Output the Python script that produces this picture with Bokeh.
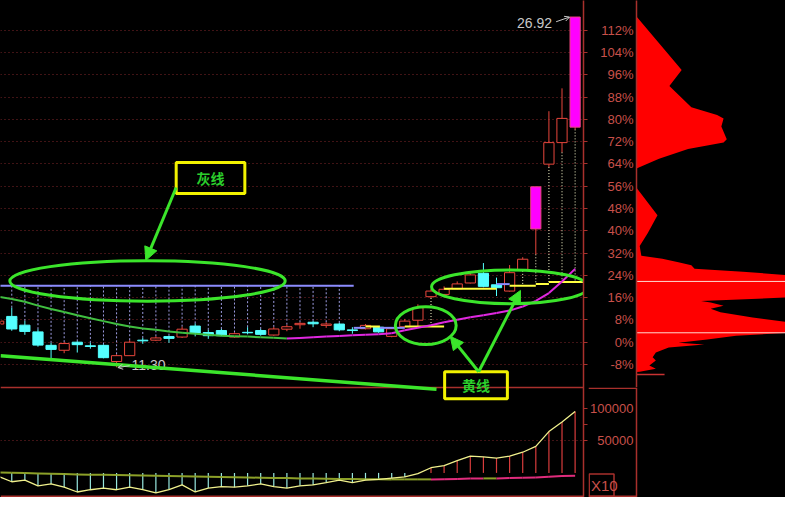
import numpy as np
from bokeh.plotting import figure
from bokeh.models import Range1d, FixedTicker, Span, Arrow, NormalHead, OpenHead
from bokeh.layouts import row, column
from bokeh.core.properties import value
from bokeh.embed import file_html
from bokeh.resources import INLINE

# ---------------- data ----------------
days = list(range(-1, 44))
open_price = [13.23, 13.57, 13.18, 12.88, 12.28, 12.06, 12.42, 12.26, 12.28, 11.56,
              11.82, 12.51, 12.51, 12.67, 12.65, 13.14, 12.85, 12.94, 12.65, 12.86,
              12.94, 12.74, 13.00, 13.20, 13.31, 13.17, 13.23, 12.97, 13.02, 13.09,
              12.68, 13.11, 13.40, 14.45, 14.55, 14.80, 15.06, 15.49, 14.98, 14.70,
              15.63, 17.47, 20.36, 21.32, 22.01]
close_price = [13.36, 13.01, 12.90, 12.29, 12.10, 12.36, 12.31, 12.23, 11.73, 11.82,
               12.42, 12.48, 12.61, 12.59, 13.00, 12.83, 12.71, 12.71, 12.80, 12.84,
               12.77, 13.01, 13.11, 13.26, 13.24, 13.23, 12.97, 12.94, 13.17, 12.88,
               13.02, 13.36, 13.96, 14.70, 14.78, 15.02, 15.42, 14.91, 14.85, 15.52,
               16.12, 19.35, 21.32, 22.40, 26.92]
high_price = [13.44, 13.96, 13.37, 13.00, 12.39, 12.42, 12.46, 12.39, 12.32, 11.88,
              12.51, 12.61, 12.68, 12.71, 13.11, 13.26, 12.97, 13.01, 12.85, 13.09,
              13.01, 13.10, 13.20, 13.31, 13.37, 13.31, 13.28, 13.09, 13.23, 13.14,
              13.09, 13.46, 14.11, 14.80, 14.91, 15.13, 15.52, 15.95, 15.30, 15.86,
              16.21, 19.35, 22.72, 23.74, 26.92]
low_price = [13.18, 12.93, 12.75, 12.22, 11.67, 11.93, 11.96, 12.13, 11.70, 11.30,
             11.82, 12.35, 12.47, 12.39, 12.61, 12.68, 12.57, 12.69, 12.62, 12.77,
             12.71, 12.71, 12.91, 13.02, 13.09, 13.06, 12.91, 12.80, 12.99, 12.84,
             12.64, 13.10, 13.14, 14.39, 14.52, 14.78, 15.04, 14.87, 14.48, 14.68,
             15.60, 16.34, 20.23, 20.89, 21.91]
ma_line = [14.44, 14.35, 14.22, 14.05, 13.90, 13.77, 13.62, 13.49, 13.36, 13.23,
           13.12, 13.03, 12.97, 12.90, 12.84, 12.80, 12.75, 12.71, 12.69, 12.67,
           12.64, 12.62, 12.58, 12.61, 12.64, 12.67, 12.70, 12.73, 12.75, 12.78,
           12.82, 12.95, 13.06, 13.18, 13.31, 13.42, 13.53, 13.62, 13.72, 13.83,
           14.01, 14.26, 14.61, 15.13, 15.69]
x10_value = [-5500, -13700, -11100, -20100, -17100, -22100, -29600, -26100, -23600, -26100,
             -22100, -26100, -31100, -26100, -18600, -29600, -23600, -21200, -22100, -20100,
             -17100, -21200, -23600, -20100, -18600, -15200, -11100, -15200, -11100, -10100,
             -8100, -6200, -1100, 8000, 11400, 18900, 26000, 24900, 23000, 26000,
             32000, 41000, 64000, 79000, 95000]
x10_avg = [450, 150, -300, -900, -1350, -1800, -2400, -2700, -3000, -3300,
           -3600, -3900, -4350, -4800, -5100, -5550, -6000, -6300, -6600, -7050,
           -7500, -7800, -8100, -8550, -8850, -9150, -9450, -9600, -9750, -9900,
           -10050, -10050, -10050, -10050, -9900, -9600, -8850, -8550, -8550, -8100,
           -7350, -7050, -5850, -4800, -4500]

base_price = 12.42
pct_ticks = [-8, 0, 8, 16, 24, 32, 40, 48, 56, 64, 72, 80, 88, 96, 104, 112]
x10_label_ticks = [100000, 50000]
x10_minor_tick = 75000
x10_name = "X10"

# grey (resistance) and yellow (support) step lines
grey_start = [-1.5, 26.1, 28.1, 37.0]
grey_end = [26.1, 27.0, 30.0, 38.0]
grey_level = [14.94, 13.06, 13.06, 15.01]
yellow_start = [27.0, 30.0, 33.0, 38.0, 40.0, 41.0]
yellow_end = [28.1, 33.0, 37.0, 40.0, 41.0, 43.6]
yellow_level = [13.12, 13.12, 14.80, 14.94, 15.01, 15.10]
grey_link_days = list(range(0, 26))
yellow_link_days = [32, 39, 40, 41, 42, 43]

# chip distribution (price level, bar length)
profile_price = [26.94, 24.56, 23.84, 22.90, 22.55, 22.40, 22.04, 21.47, 21.32, 21.03,
                 20.60, 20.17, 19.31, 18.08, 17.29, 16.71, 16.28, 16.14, 15.99, 15.85,
                 15.70, 15.56, 15.42, 14.41, 14.26, 14.19, 14.05, 13.91, 13.76, 13.52,
                 13.33, 12.83, 12.71, 12.54, 12.39, 12.32, 12.18, 11.96, 11.75, 11.60,
                 11.38, 11.24, 11.10, 11.09]
profile_len = [0, 46.7, 34, 56.7, 83.3, 90, 87.7, 93.3, 90, 53.3,
               23.3, 0, 0, 21.7, 11.7, 3.3, 5, 26.7, 43.3, 56.7,
               60, 110, 154, 154, 66.7, 76.7, 90, 76.7, 86.7, 120,
               154, 154, 103, 73, 43.3, 70, 33.3, 20, 16.7, 20,
               13.3, 20, 3.3, 0]
cost_lines = [15.13, 12.84]
profile_floor = 10.98
profile_floor_len = 29

# hand-drawn callouts (day index, price)
ellipse_x = [10.36, 31.60, 38.03]
ellipse_y = [15.15, 13.16, 14.89]
ellipse_w = [21.02, 4.64, 11.97]
ellipse_h = [1.81, 1.68, 1.51]
box_text = ["灰线", "黄线"]
box_left = [12.55, 33.04]
box_right = [17.79, 37.83]
box_top = [20.43, 11.10]
box_bottom = [19.05, 9.90]

# ---------------- styles / geometry ----------------
BG = "#000000"
AXIS_RED = "#a8302c"
LABEL_RED = "#c8504a"
GRID_RED = "#80262a"
UP_RED = "#e8463c"
DOWN_CYAN = "#54ffff"
LIMIT_FILL = "#ff00ff"
LIME = "#3be52b"
BOX_YEL = "#f2f200"

H = 497
H_TOP = 387
W_MAIN, W_SIDE, AX_W = 588, 197, 48
price_lo, price_hi = 5.495, 27.657
x10_lo, x10_hi = -38140, 732130
px_per_price = H / (price_hi - price_lo)
px_per_x10 = H / (x10_hi - x10_lo)


def x10_to_price(v):
    return price_lo + (v - x10_lo) / (x10_hi - x10_lo) * (price_hi - price_lo)


pct_pos = [base_price * (1 + q / 100.0) for q in pct_ticks]
x10_pos = [x10_to_price(v) for v in x10_label_ticks]
x10_minor_pos = x10_to_price(x10_minor_tick)

# ---------------- main price + indicator panel ----------------
p = figure(width=W_MAIN, height=H, x_range=Range1d(-0.86, 43.64),
           y_range=Range1d(price_lo, price_hi), output_backend="svg",
           toolbar_location=None, x_axis_location=None, y_axis_location="right",
           background_fill_color=BG, border_fill_color=BG, outline_line_color=None,
           min_border_left=0, min_border_right=5, min_border_top=0, min_border_bottom=0)
p.extra_y_ranges = {"x10": Range1d(x10_lo, x10_hi)}
p.xgrid.visible = False
p.ygrid.ticker = FixedTicker(ticks=pct_pos + [x10_pos[1]])
p.ygrid.grid_line_color = GRID_RED
p.ygrid.grid_line_dash = "1 3"
ax = p.yaxis[0]
main_ticks = pct_pos + x10_pos + [x10_minor_pos]
ax.ticker = FixedTicker(ticks=main_ticks)
ax.major_label_overrides = {t: "" for t in main_ticks}
ax.axis_line_color = AXIS_RED
ax.axis_line_width = 1.5
ax.major_tick_line_color = AXIS_RED
ax.major_tick_out = 4
ax.major_tick_in = 0
ax.minor_tick_line_color = None
ax.major_label_standoff = 0

# panel separators
sep_top = price_hi - H_TOP / px_per_price
sep_bottom = 5.55
p.add_layout(Span(location=sep_top, dimension="width", line_color=AXIS_RED, line_width=1.5, level="underlay"))
p.add_layout(Span(location=sep_bottom, dimension="width", line_color=AXIS_RED, line_width=1.5, level="underlay"))

o = np.array(open_price)
c = np.array(close_price)
h = np.array(high_price)
l = np.array(low_price)
d = np.array(days)
prev_close = np.r_[np.nan, c[:-1]]
with np.errstate(invalid="ignore"):
    limit_up = np.nan_to_num(c / prev_close - 1, nan=0) >= 0.19
up = (c >= o) & ~limit_up
down = c < o


def level_at(k, starts, ends, levels):
    for s, e, v in zip(starts, ends, levels):
        if s <= k < e:
            return v
    return levels[-1]


# dotted connectors
gx = grey_link_days
p.segment(x0=gx, x1=gx, y0=[high_price[days.index(k)] for k in gx],
          y1=[level_at(k, grey_start, grey_end, grey_level) for k in gx],
          line_color="#9c9ce0", line_dash="2 2", line_width=1)
yx = yellow_link_days
p.segment(x0=yx, x1=yx, y0=[low_price[days.index(k)] for k in yx],
          y1=[level_at(k, yellow_start, yellow_end, yellow_level) for k in yx],
          line_color="#ffffd0", line_dash="1 2", line_width=1)

# candles
wick_col = [DOWN_CYAN if (cc < oo) else UP_RED for oo, cc in zip(open_price, close_price)]
p.segment(x0=days, x1=days, y0=high_price, y1=low_price, line_color=wick_col, line_width=1)
p.vbar(x=d[up].tolist(), top=c[up].tolist(), bottom=o[up].tolist(), width=0.78,
       fill_color=BG, line_color=UP_RED, line_width=1)
p.vbar(x=d[down].tolist(), top=o[down].tolist(), bottom=c[down].tolist(), width=0.78,
       fill_color=DOWN_CYAN, line_color=DOWN_CYAN, line_width=1)
p.vbar(x=d[limit_up].tolist(), top=c[limit_up].tolist(), bottom=o[limit_up].tolist(), width=0.78,
       fill_color=LIMIT_FILL, line_color="#e8467a", line_width=1)

# grey / yellow lines
p.segment(x0=grey_start, x1=grey_end, y0=grey_level, y1=grey_level, line_color="#8c8cff", line_width=2)
p.segment(x0=yellow_start, x1=yellow_end, y0=yellow_level, y1=yellow_level, line_color="#ffff40", line_width=2)

# moving average: green while falling, magenta while rising
ma_col = ["#e028e0" if b > a else "#40c040" for a, b in zip(ma_line[:-1], ma_line[1:])]
p.segment(x0=days[:-1], x1=days[1:], y0=ma_line[:-1], y1=ma_line[1:], line_color=ma_col, line_width=2)

# indicator (X10) panel
bar_col = ["#d83c3c" if v > 0 else "#98e8e0" for v in x10_value]
p.segment(x0=days, x1=days, y0=[0] * len(days), y1=x10_value, line_color=bar_col,
          line_width=1.2, y_range_name="x10")
avg_col = ["#e02c7c" if b > a else "#8ca028" for a, b in zip(x10_avg[:-1], x10_avg[1:])]
p.segment(x0=days[:-1], x1=days[1:], y0=x10_avg[:-1], y1=x10_avg[1:], line_color=avg_col,
          line_width=2, y_range_name="x10")
p.line(days, x10_value, line_color="#f0f08c", line_width=1.3, y_range_name="x10")

# extreme price labels
i_hi = int(np.argmax(h))
i_lo = int(np.argmin(l))
p.text(x=[days[i_hi]], y=[high_price[i_hi]], text=[f"{high_price[i_hi]:.2f}"], x_offset=-23, y_offset=6,
       text_align="right", text_baseline="middle", text_color="#c8c8c8",
       text_font=value("Liberation Sans"), text_font_size="14px")
p.add_layout(Arrow(x_start=days[i_hi] - 1.45, y_start=high_price[i_hi] - 0.21,
                   x_end=days[i_hi] - 0.42, y_end=high_price[i_hi],
                   line_color="#c8c8c8", line_width=1, end=OpenHead(size=5, line_color="#c8c8c8", line_width=1)))
p.text(x=[days[i_lo]], y=[low_price[i_lo]], text=[f"{low_price[i_lo]:.2f}"], x_offset=15, y_offset=-2,
       text_align="left", text_baseline="middle", text_color="#c8c8c8",
       text_font=value("Liberation Sans"), text_font_size="14px")
p.add_layout(Arrow(x_start=days[i_lo] + 1.0, y_start=low_price[i_lo] + 0.07,
                   x_end=days[i_lo] + 0.1, y_end=low_price[i_lo] - 0.01,
                   line_color="#c8c8c8", line_width=1, end=OpenHead(size=5, line_color="#c8c8c8", line_width=1)))

# callouts
p.ellipse(x=ellipse_x, y=ellipse_y, width=ellipse_w, height=ellipse_h,
          fill_color=None, line_color=LIME, line_width=3)
p.line([-0.86, 32.42], [11.82, 10.32], line_color=LIME, line_width=3.5)
for xs, ys, xe, ye in [(12.55, 19.32, 10.23, 16.07), (35.64, 11.10, 33.47, 12.68), (35.64, 11.10, 38.83, 14.73)]:
    p.add_layout(Arrow(x_start=xs, y_start=ys, x_end=xe, y_end=ye, line_color=LIME, line_width=3,
                       end=NormalHead(size=13, fill_color=LIME, line_color=LIME)))
p.quad(left=box_left, right=box_right, top=box_top, bottom=box_bottom,
       fill_color=BG, fill_alpha=0.0, line_color=BOX_YEL, line_width=3)
p.text(x=[(a + b) / 2 for a, b in zip(box_left, box_right)],
       y=[(a + b) / 2 for a, b in zip(box_top, box_bottom)],
       text=box_text, text_align="center", text_baseline="middle", text_color="#2ccf2c",
       text_font=value("Noto Sans CJK SC"), text_font_size="14px", text_font_style="bold")

# ---------------- chip distribution panel with the percentage scale ----------------
q = figure(width=W_SIDE, height=H_TOP, x_range=Range1d(0, 154), y_range=Range1d(sep_top, price_hi),
           output_backend="svg", toolbar_location=None, x_axis_location=None,
           y_axis_location="left", background_fill_color=BG, border_fill_color=BG,
           outline_line_color=None, min_border_left=AX_W, min_border_right=0,
           min_border_top=0, min_border_bottom=0)
q.frame_align = False
q.grid.visible = False
qa = q.yaxis[0]
qa.ticker = FixedTicker(ticks=pct_pos)
qa.major_label_overrides = {t: f"{v}%" for t, v in zip(pct_pos, pct_ticks)}
qa.major_tick_line_color = None
qa.major_tick_out = 0
qa.major_tick_in = 0
qa.minor_tick_line_color = None
qa.axis_line_color = AXIS_RED
qa.axis_line_width = 1.5
qa.major_label_text_color = LABEL_RED
qa.major_label_text_font = "Liberation Sans"
qa.major_label_text_font_size = "13px"
qa.major_label_standoff = 3

q.harea(x1=[0] * len(profile_len), x2=profile_len, y=profile_price, fill_color="#ff0000")
q.segment(x0=[0] * len(cost_lines), x1=[154] * len(cost_lines), y0=cost_lines, y1=cost_lines,
          line_color="#ffd8d0", line_width=1)
q.segment(x0=[0], x1=[profile_floor_len], y0=[profile_floor], y1=[profile_floor],
          line_color="#c83232", line_width=1.5)

# ---------------- indicator scale (bottom right) ----------------
bot_hi = x10_hi - H_TOP / px_per_x10
r = figure(width=W_SIDE, height=H - H_TOP, x_range=Range1d(0, W_SIDE), y_range=Range1d(x10_lo, bot_hi),
           output_backend="svg", toolbar_location=None, x_axis_location=None, y_axis_location=None,
           background_fill_color=BG, border_fill_color=BG, outline_line_color=None,
           min_border_left=0, min_border_right=0, min_border_top=0, min_border_bottom=0)
r.frame_align = False
r.grid.visible = False
r.add_layout(Span(location=AX_W, dimension="height", line_color=AXIS_RED, line_width=1.5))
r.text(x=[AX_W - 3] * len(x10_label_ticks), y=x10_label_ticks, text=[str(v) for v in x10_label_ticks],
       text_align="right", text_baseline="middle", text_color=LABEL_RED,
       text_font=value("Liberation Sans"), text_font_size="13px")
sep_high = bot_hi - 0.8 / px_per_x10
sep_low = x10_lo + (sep_bottom - price_lo) * px_per_price / px_per_x10
r.segment(x0=[0, 0], x1=[AX_W, AX_W], y0=[sep_high, sep_low], y1=[sep_high, sep_low],
          line_color=AXIS_RED, line_width=1.5)
box_top_v = x10_lo + 23.5 / px_per_x10
r.quad(left=[0.7], right=[25.5], top=[box_top_v], bottom=[sep_low], fill_alpha=0.0,
       line_color=AXIS_RED, line_width=1.5)
r.text(x=[2.5], y=[(box_top_v + sep_low) / 2], text=[x10_name], text_align="left", text_baseline="middle",
       text_color=LABEL_RED, text_font=value("Liberation Sans"), text_font_size="15px")

side = column(q, r, background=BG)
layout = row(p, side, background=BG)
open("out.html", "w").write(file_html(layout, INLINE))
